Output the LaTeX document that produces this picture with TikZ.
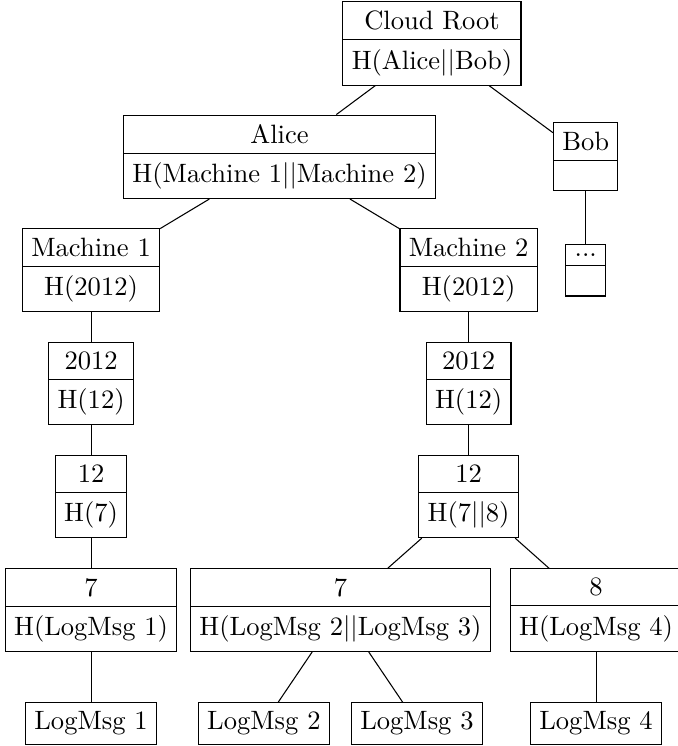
\documentclass[tikz,border=0pt]{standalone}
\usetikzlibrary{shapes.multipart}
\begin{document}
\begin{tikzpicture}[
  split/.style={draw, rectangle split, rectangle split parts=2, line width=0.4pt},
  leaf/.style={draw, rectangle, line width=0.4pt},
  conn/.style={line width=0.4pt}
]
\useasboundingbox (-162.7pt,16.38pt) rectangle (92.66pt,-264.6pt);
% level y positions
\def\la{0pt}
\node[split] (root) at (0pt,0pt) {Cloud Root\nodepart{two}H(Alice\textbar\textbar Bob)};
\node[split] (alice) at (-57.4pt,-42.68pt) {Alice\nodepart{two}H(Machine 1\textbar\textbar Machine 2)};
\node[split] (bob) at (57.9pt,-42.68pt) {Bob\nodepart{two}};
\node[split] (m1) at (-128.4pt,-85.36pt) {Machine 1\nodepart{two}H(2012)};
\node[split] (m2) at (13.8pt,-85.36pt) {Machine 2\nodepart{two}H(2012)};
\node[split] (dots) at (57.9pt,-85.36pt) {...\nodepart{two}};
\node[split] (y1) at (-128.4pt,-128.04pt) {2012\nodepart{two}H(12)};
\node[split] (y2) at (13.8pt,-128.04pt) {2012\nodepart{two}H(12)};
\node[split] (d1) at (-128.4pt,-170.72pt) {12\nodepart{two}H(7)};
\node[split] (d2) at (13.8pt,-170.72pt) {12\nodepart{two}H(7\textbar\textbar 8)};
\node[split] (h1) at (-128.4pt,-213.4pt) {7\nodepart{two}H(LogMsg 1)};
\node[split] (h2) at (-34.46pt,-213.4pt) {7\nodepart{two}H(LogMsg 2\textbar\textbar LogMsg 3)};
\node[split] (h3) at (61.8pt,-213.4pt) {8\nodepart{two}H(LogMsg 4)};
\node[leaf] (l1) at (-128.4pt,-256.08pt) {LogMsg 1};
\node[leaf] (l2) at (-63.3pt,-256.08pt) {LogMsg 2};
\node[leaf] (l3) at (-5.65pt,-256.08pt) {LogMsg 3};
\node[leaf] (l4) at (61.8pt,-256.08pt) {LogMsg 4};
\draw[conn] (root) -- (alice);
\draw[conn] (root) -- (bob);
\draw[conn] (alice) -- (m1);
\draw[conn] (alice) -- (m2);
\draw[conn] (bob) -- (dots);
\draw[conn] (m1) -- (y1);
\draw[conn] (m2) -- (y2);
\draw[conn] (y1) -- (d1);
\draw[conn] (y2) -- (d2);
\draw[conn] (d1) -- (h1);
\draw[conn] (d2) -- (h2);
\draw[conn] (d2) -- (h3);
\draw[conn] (h1) -- (l1);
\draw[conn] (h2) -- (l2);
\draw[conn] (h2) -- (l3);
\draw[conn] (h3) -- (l4);
\end{tikzpicture}
\end{document}
